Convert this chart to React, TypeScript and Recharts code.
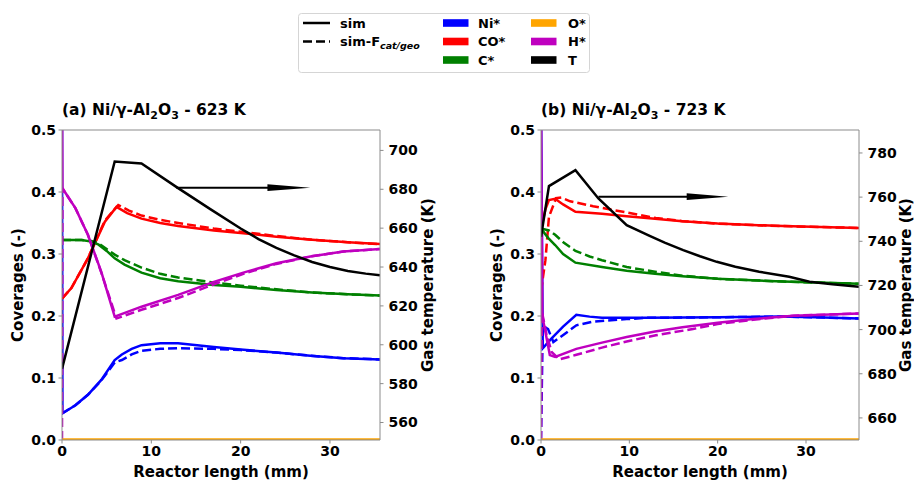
import React from 'react';
import { LineChart, Line, XAxis, YAxis, ReferenceLine } from 'recharts';

type P = [number, number][];

const FONT = '"DejaVu Sans", sans-serif';
const GRAY = '#8c8c8c';
const BLUE = '#0000ff';
const RED = '#ff0000';
const GREEN = '#008000';
const ORANGE = '#ffa500';
const PURPLE = '#bf00bf';
const BLACK = '#000000';

// ---- ticks ----
const xTicks = [0, 10, 20, 30];
const covTicks = [0, 0.1, 0.2, 0.3, 0.4, 0.5];
const aTTicks = [560, 580, 600, 620, 640, 660, 680, 700];
const bTTicks = [660, 680, 700, 720, 740, 760, 780];

// ---- panel (a) 623 K : [reactor length mm, value] ----
const aNi: P = [[0, 0.55], [0.05, 0.043], [1.5, 0.056], [2.9, 0.073], [4.4, 0.097], [5.9, 0.129], [6.7, 0.138], [7.8, 0.147], [8.9, 0.153], [11, 0.156], [13, 0.156], [17, 0.15], [20, 0.146], [24, 0.141], [27.8, 0.136], [31.5, 0.132], [35.6, 0.13]];
const aNiF: P = [[0, 0.043], [1.5, 0.056], [2.9, 0.073], [4.4, 0.096], [5.9, 0.125], [6.7, 0.129], [7.8, 0.138], [8.9, 0.144], [11, 0.147], [13, 0.148], [17, 0.147], [20, 0.145], [24, 0.141], [27.8, 0.136], [31.5, 0.132], [35.6, 0.13]];
const aCO: P = [[0, 0.228], [1.05, 0.245], [2.9, 0.293], [4.8, 0.352], [6.1, 0.376], [7.3, 0.366], [8.9, 0.357], [11, 0.35], [13, 0.345], [17, 0.338], [20, 0.334], [24, 0.328], [28, 0.323], [32, 0.319], [35.6, 0.316]];
const aCOF: P = [[0, 0.228], [1.05, 0.245], [2.9, 0.293], [4.8, 0.354], [6.3, 0.379], [7.5, 0.37], [8.9, 0.362], [11, 0.355], [13, 0.35], [17, 0.341], [20, 0.336], [24, 0.329], [28, 0.323], [32, 0.319], [35.6, 0.316]];
const aC: P = [[0, 0.3226], [2.2, 0.3226], [3.3, 0.32], [4.1, 0.315], [5.0, 0.305], [5.9, 0.293], [7, 0.283], [8.9, 0.27], [11, 0.261], [13, 0.256], [17, 0.25], [20, 0.247], [24, 0.242], [28, 0.238], [32, 0.235], [35.6, 0.233]];
const aCF: P = [[0, 0.3226], [2.2, 0.3226], [3.3, 0.321], [4.1, 0.317], [5.0, 0.308], [5.9, 0.299], [7, 0.29], [8.9, 0.278], [11, 0.268], [13, 0.262], [17, 0.254], [20, 0.249], [24, 0.243], [28, 0.238], [32, 0.235], [35.6, 0.233]];
const aO: P = [[0, 0.001], [10, 0.001], [20, 0.001], [35.6, 0.001]];
const aH: P = [[0, 0.55], [0.05, 0.406], [1.5, 0.374], [2.9, 0.331], [4.4, 0.271], [5.9, 0.199], [8.9, 0.215], [13, 0.234], [17, 0.255], [20.3, 0.27], [24, 0.285], [27.8, 0.296], [31.5, 0.304], [35.6, 0.308]];
const aHF: P = [[0, 0], [0.05, 0.406], [1.5, 0.374], [2.9, 0.331], [4.4, 0.27], [6.1, 0.196], [8.9, 0.21], [13, 0.229], [17, 0.251], [20.3, 0.268], [24, 0.284], [27.8, 0.296], [31.5, 0.304], [35.6, 0.308]];
const aT: P = [[0, 587.6], [5.9, 694.3], [8.9, 693.3], [13, 680.6], [16.6, 669.8], [20, 659.8], [22, 654.4], [24, 649.8], [26, 646], [28, 642.6], [30, 640], [32, 638], [34, 636.6], [35.6, 635.8]];

// ---- panel (b) 723 K ----
const bNi: P = [[0, 0.55], [0.2, 0.148], [1.2, 0.164], [2.5, 0.183], [4, 0.202], [5.5, 0.199], [6.9, 0.197], [12, 0.197], [20, 0.198], [27, 0.199], [31, 0.198], [36, 0.196]];
const bNiF: P = [[0, 0], [0.2, 0.184], [0.8, 0.179], [1.4, 0.158], [2.2, 0.166], [4, 0.185], [5.9, 0.191], [9.7, 0.195], [12, 0.197], [20, 0.198], [27, 0.199], [31, 0.198], [36, 0.196]];
const bCO: P = [[0, 0.34], [0.5, 0.372], [0.9, 0.387], [1.6, 0.389], [2.5, 0.38], [3.9, 0.368], [6.9, 0.365], [9.7, 0.361], [12.9, 0.357], [16, 0.353], [20, 0.349], [27.4, 0.345], [36, 0.342]];
const bCOF: P = [[0, 0.24], [0.5, 0.29], [0.9, 0.36], [1.7, 0.39], [2.3, 0.391], [3.3, 0.385], [5.9, 0.377], [9.7, 0.367], [13, 0.358], [16, 0.353], [20, 0.349], [27.4, 0.345], [36, 0.342]];
const bC: P = [[0, 0.341], [0.8, 0.326], [1.6, 0.3145], [2.5, 0.3], [3.9, 0.286], [6.9, 0.279], [9.7, 0.273], [12.9, 0.268], [16, 0.264], [20, 0.26], [27.4, 0.2555], [36, 0.252]];
const bCF: P = [[0, 0.341], [0.9, 0.338], [1.6, 0.331], [2.6, 0.318], [3.9, 0.305], [5.5, 0.296], [6.9, 0.29], [9.7, 0.279], [12.9, 0.2715], [16, 0.265], [20, 0.26], [27.4, 0.2555], [36, 0.252]];
const bO: P = [[0, 0.001], [10, 0.001], [20, 0.001], [36, 0.001]];
const bH: P = [[0, 0.55], [0.15, 0.2], [1.0, 0.137], [1.6, 0.134], [4, 0.147], [6.9, 0.157], [9.7, 0.166], [12.9, 0.175], [16, 0.182], [20, 0.189], [24, 0.195], [28.6, 0.2005], [36, 0.204]];
const bHF: P = [[0, 0], [0.1, 0.207], [0.6, 0.172], [1.2, 0.142], [2.1, 0.13], [3.9, 0.137], [6.9, 0.149], [9.7, 0.159], [13, 0.169], [17.2, 0.179], [20, 0.187], [24, 0.194], [28.6, 0.2005], [36, 0.204]];
const bT: P = [[0, 742], [0.9, 765], [3.9, 772.2], [6.5, 759.4], [9.7, 747.3], [12.3, 742.5], [14, 739.4], [16.1, 736], [18, 733.2], [19.9, 730.7], [22, 728.5], [24.7, 726.2], [28.1, 723.9], [30.4, 721.7], [33, 720.5], [36, 719.4]];

// arrow annotations (data units: mm, coverage)
const aArrow = { x1: 12.8, x2: 27.8, y: 0.407 };
const bArrow = { x1: 6.5, x2: 21.2, y: 0.3924 };

const toPts = (p: P) => p.map(([x, y]) => ({ x, y }));

type S = { pts: P; color: string; dash: boolean };

function ArrowShape(props: any) {
  const { x1, y1, x2, y2 } = props;
  const hx = x2 - (x2 - x1) * 0.32;
  return (
    <g>
      <line x1={x1} y1={y1} x2={hx + 1} y2={y2} stroke="#000" strokeWidth={2} />
      <polygon points={`${hx},${y1 - 3.4} ${x2},${y2} ${hx},${y1 + 3.4}`} fill="#000" />
    </g>
  );
}

const tickStyle = { fill: '#000', fontSize: 14, fontWeight: 'bold', fontFamily: FONT };

function Panel(props: {
  left: number; width: number; mLeft: number; mRight: number; xMax: number;
  tDomain: [number, number]; tTicks: number[]; series: S[]; t: P;
  arrow: { x1: number; x2: number; y: number };
}) {
  const { left, width, mLeft, mRight, xMax, tDomain, tTicks, series, t, arrow } = props;
  return (
    <div style={{ position: 'absolute', left, top: 0 }}>
      <LineChart width={width} height={480} margin={{ top: 130, right: mRight, bottom: 10, left: mLeft }}>
        <XAxis dataKey="x" type="number" domain={[0, xMax]} allowDataOverflow ticks={xTicks}
          height={30} tickSize={3.5} tickMargin={2.5} stroke={GRAY} tick={tickStyle} />
        <YAxis yAxisId="cov" type="number" domain={[0, 0.5]} allowDataOverflow ticks={covTicks}
          width={62} tickSize={3.5} tickMargin={2.5} stroke={GRAY} tick={tickStyle}
          tickFormatter={(v: number) => v.toFixed(1)} />
        <YAxis yAxisId="T" orientation="right" type="number" domain={tDomain} allowDataOverflow ticks={tTicks}
          width={50} tickSize={3.5} tickMargin={5} stroke={GRAY} tick={tickStyle} />
        {series.map((s, i) => (
          <Line key={i} data={toPts(s.pts)} dataKey="y" yAxisId="cov" type="linear" stroke={s.color}
            strokeWidth={2.5} strokeDasharray={s.dash ? '9 4' : undefined} dot={false}
            activeDot={false} isAnimationActive={false} />
        ))}
        <Line data={toPts(t)} dataKey="y" yAxisId="T" type="linear" stroke={BLACK} strokeWidth={2.5}
          dot={false} activeDot={false} isAnimationActive={false} />
        <ReferenceLine yAxisId="cov" segment={[{ x: arrow.x1, y: arrow.y }, { x: arrow.x2, y: arrow.y }]}
          shape={(p: any) => <ArrowShape {...p} />} />
      </LineChart>
    </div>
  );
}

const aSeries: S[] = [
  { pts: aNi, color: BLUE, dash: false }, { pts: aNiF, color: BLUE, dash: true },
  { pts: aCO, color: RED, dash: false }, { pts: aCOF, color: RED, dash: true },
  { pts: aC, color: GREEN, dash: false }, { pts: aCF, color: GREEN, dash: true },
  { pts: aH, color: PURPLE, dash: false }, { pts: aHF, color: PURPLE, dash: true },
  { pts: aO, color: ORANGE, dash: false },
];
const bSeries: S[] = [
  { pts: bNi, color: BLUE, dash: false }, { pts: bNiF, color: BLUE, dash: true },
  { pts: bCO, color: RED, dash: false }, { pts: bCOF, color: RED, dash: true },
  { pts: bC, color: GREEN, dash: false }, { pts: bCF, color: GREEN, dash: true },
  { pts: bH, color: PURPLE, dash: false }, { pts: bHF, color: PURPLE, dash: true },
  { pts: bO, color: ORANGE, dash: false },
];

const legendPatches = [
  { label: 'Ni*', color: BLUE, col: 0, row: 0 },
  { label: 'CO*', color: RED, col: 0, row: 1 },
  { label: 'C*', color: GREEN, col: 0, row: 2 },
  { label: 'O*', color: ORANGE, col: 1, row: 0 },
  { label: 'H*', color: PURPLE, col: 1, row: 1 },
  { label: 'T', color: BLACK, col: 1, row: 2 },
];

function Title(props: { x: number; tag: string; temp: string }) {
  const { x, tag, temp } = props;
  return (
    <text x={x} y={115} fontSize={15.5} fontWeight="bold" style={{ whiteSpace: 'pre' }}>
      {`${tag} Ni/γ-Al`}
      <tspan fontSize={11} dy={4}>2</tspan>
      <tspan fontSize={15.5} dy={-4}>O</tspan>
      <tspan fontSize={11} dy={4}>3</tspan>
      <tspan fontSize={15.5} dy={-4}>{` - ${temp}`}</tspan>
    </text>
  );
}

export default function App() {
  const rowsY = [23, 41.5, 60];
  return (
    <div style={{ position: 'absolute', left: 0, top: 0, width: 914, height: 480, background: '#fff', fontFamily: FONT }}>
      <Panel left={0} width={460} mLeft={0} mRight={30} xMax={35.6} tDomain={[551, 710.5]} tTicks={aTTicks}
        series={aSeries} t={aT} arrow={aArrow} />
      <Panel left={460} width={454} mLeft={19} mRight={5} xMax={36} tDomain={[650, 790.4]} tTicks={bTTicks}
        series={bSeries} t={bT} arrow={bArrow} />
      <svg width={914} height={480} style={{ position: 'absolute', left: 0, top: 0, pointerEvents: 'none' }}
        fontFamily={FONT}>
        {/* top frame edges of the two plot boxes */}
        <line x1={62} y1={130} x2={380} y2={130} stroke={GRAY} strokeWidth={1.2} />
        <line x1={541} y1={130} x2={859} y2={130} stroke={GRAY} strokeWidth={1.2} />
        <Title x={62} tag="(a)" temp="623 K" />
        <Title x={541} tag="(b)" temp="723 K" />
        <text x={221} y={477} fontSize={15} fontWeight="bold" textAnchor="middle">Reactor length (mm)</text>
        <text x={700} y={477} fontSize={15} fontWeight="bold" textAnchor="middle">Reactor length (mm)</text>
        <text x={18} y={285} dy="0.35em" fontSize={15} fontWeight="bold" textAnchor="middle"
          transform="rotate(-90 18 285)">Coverages (-)</text>
        <text x={497} y={285} dy="0.35em" fontSize={15} fontWeight="bold" textAnchor="middle"
          transform="rotate(-90 497 285)">Coverages (-)</text>
        <text x={428} y={285} dy="0.35em" fontSize={15} fontWeight="bold" textAnchor="middle"
          transform="rotate(-90 428 285)">Gas temperature (K)</text>
        <text x={906} y={285} dy="0.35em" fontSize={15} fontWeight="bold" textAnchor="middle"
          transform="rotate(-90 906 285)">Gas temperature (K)</text>

        <rect x={298.5} y={13.5} width={291} height={59} rx={3} fill="#fff" stroke="#d5d5d5" strokeWidth={1} />
        <line x1={303} y1={rowsY[0]} x2={330} y2={rowsY[0]} stroke="#000" strokeWidth={2.5} />
        <text x={340} y={rowsY[0] + 4.8} fontSize={13} fontWeight="bold">sim</text>
        <line x1={303} y1={rowsY[1]} x2={330} y2={rowsY[1]} stroke="#000" strokeWidth={2.5} strokeDasharray="9 4" />
        <text x={340} y={rowsY[1] + 4.8} fontSize={13} fontWeight="bold" style={{ whiteSpace: 'pre' }}>
          sim-F<tspan fontSize={9.5} fontStyle="italic" dy={3}>cat/geo</tspan>
        </text>
        {legendPatches.map((p) => (
          <g key={p.label}>
            <rect x={p.col === 0 ? 443 : 531} y={rowsY[p.row] - 3.8} width={25.5} height={7.6} fill={p.color} />
            <text x={p.col === 0 ? 478 : 568} y={rowsY[p.row] + 4.8} fontSize={13} fontWeight="bold">{p.label}</text>
          </g>
        ))}
      </svg>
    </div>
  );
}
